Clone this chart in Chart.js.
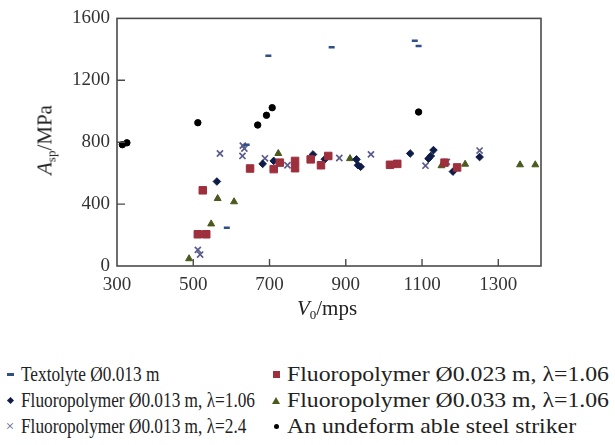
<!DOCTYPE html>
<html>
<head>
<meta charset="utf-8">
<script src="https://cdn.jsdelivr.net/npm/chart.js@4/dist/chart.umd.min.js"></script>
<style>
  body { margin: 0; background: #fff; }
  #wrap { position: relative; width: 615px; height: 445px; font-family: "Liberation Serif", "Times New Roman", Times, serif; color: #222; }
  #plot { position: absolute; left: 0; top: 0; width: 615px; height: 330px; }
  .ytitle { position: absolute; left: 46px; top: 140px; transform: translate(-50%, -50%) rotate(-90deg); font-size: 21px; white-space: nowrap; }
  .xtitle { position: absolute; left: 327px; top: 309px; transform: translate(-50%, -50%); font-size: 21px; white-space: nowrap; }
  sub { font-size: 13px; vertical-align: -4px; }
  #legend { position: absolute; left: 0; top: 361px; width: 615px; height: 80px; font-size: 22px; }
  .item { position: absolute; display: flex; align-items: center; white-space: nowrap; height: 26px; }
  .mk { width: 12px; height: 12px; display: flex; align-items: center; justify-content: center; }
  .txt { display: inline-block; transform-origin: left center; margin-left: 5px; }
</style>
</head>
<body>
<div id="wrap">
  <div id="plot"><canvas id="chart"></canvas></div>
  <div class="ytitle"><i>A</i><sub>sp</sub>/MPa</div>
  <div class="xtitle"><i>V</i><sub>0</sub>/mps</div>
  <div id="legend"></div>
</div>
<script>
// axis ticks
const xTicks = [300, 500, 700, 900, 1100, 1300];
const yTicks = [0, 400, 800, 1200, 1600];

// series
const textolyteX = [588, 640, 697, 863, 1081, 1091];
const textolyteY = [247, 784, 1358, 1413, 1455, 1421];

const fluoro023X = [512, 534, 525, 649, 711, 727, 767, 767, 808, 835, 854, 1016, 1035, 1159, 1192];
const fluoro023Y = [205, 205, 489, 630, 626, 668, 679, 632, 689, 651, 711, 654, 660, 668, 637];

const fluoro013X = [562, 682, 711, 814, 845, 928, 932, 939, 1069, 1117, 1123, 1130, 1181, 1251];
const fluoro013Y = [546, 660, 679, 721, 690, 689, 651, 641, 727, 694, 711, 749, 610, 704];

const fluoro033X = [489, 547, 564, 607, 723, 911, 1151, 1213, 1357, 1397];
const fluoro033Y = [47, 272, 436, 415, 727, 694, 648, 658, 654, 654];

const fluoroL24X = [512, 518, 570, 630, 634, 629, 688, 747, 883, 966, 1109, 1165, 1251];
const fluoroL24Y = [104, 74, 727, 778, 759, 711, 696, 651, 698, 721, 648, 673, 746];

const steelX = [314, 326, 512, 669, 692, 707, 1091];
const steelY = [784, 796, 926, 911, 974, 1023, 995];

const toPoints = (xs, ys) => xs.map((x, i) => ({ x: x, y: ys[i] }));

const series = [
    { label: 'Textolyte Ø0.013 m', data: toPoints(textolyteX, textolyteY), style: 'line', color: '#2f4f86', r: 3, bw: 2.5 },
    { label: 'Fluoropolymer Ø0.023 m, λ=1.06', data: toPoints(fluoro023X, fluoro023Y), style: 'rect', color: '#9e2f3c', r: 5.3, bw: 1 },
    { label: 'Fluoropolymer Ø0.013 m, λ=1.06', data: toPoints(fluoro013X, fluoro013Y), style: 'rectRot', color: '#0f1c48', r: 3.8, bw: 1 },
    { label: 'Fluoropolymer Ø0.033 m, λ=1.06', data: toPoints(fluoro033X, fluoro033Y), style: 'triangle', color: '#4a5a1e', r: 4, bw: 1 },
    { label: 'Fluoropolymer Ø0.013 m, λ=2.4', data: toPoints(fluoroL24X, fluoroL24Y), style: 'crossRot', color: '#5c5c8c', r: 4.3, bw: 1.7 },
    { label: 'An undeform able steel striker', data: toPoints(steelX, steelY), style: 'circle', color: '#000000', r: 3.2, bw: 1 }
];

// frame and inward tick marks
const framePlugin = {
    id: 'frame',
    afterDraw(chart) {
        const ctx = chart.ctx;
        const a = chart.chartArea;
        const xs = chart.scales.x, ys = chart.scales.y;
        ctx.save();
        ctx.strokeStyle = '#4a4a4a';
        ctx.lineWidth = 1.6;
        ctx.strokeRect(a.left, a.top, a.right - a.left, a.bottom - a.top);
        ctx.lineWidth = 1.4;
        ctx.beginPath();
        xTicks.slice(1).forEach(v => {
            const px = xs.getPixelForValue(v);
            ctx.moveTo(px, a.bottom);
            ctx.lineTo(px, a.bottom - 7);
        });
        yTicks.slice(1, -1).forEach(v => {
            const py = ys.getPixelForValue(v);
            ctx.moveTo(a.left, py);
            ctx.lineTo(a.left + 8, py);
        });
        ctx.stroke();
        ctx.restore();
    }
};

const tickFont = { family: '"Liberation Serif", "Times New Roman", serif', size: 19 };

new Chart(document.getElementById('chart'), {
    type: 'scatter',
    data: {
        datasets: series.map(s => ({
            label: s.label,
            data: s.data,
            pointStyle: s.style,
            pointRadius: s.r,
            pointBorderWidth: s.bw,
            backgroundColor: s.color,
            borderColor: s.color
        }))
    },
    options: {
        responsive: true,
        maintainAspectRatio: false,
        animation: false,
        layout: { padding: { left: 0, right: 74, top: 12, bottom: 0 } },
        plugins: { legend: { display: false }, tooltip: { enabled: false } },
        scales: {
            x: {
                type: 'linear',
                min: 300,
                max: 1412,
                grid: { display: false, drawTicks: false },
                border: { display: false },
                afterBuildTicks: scale => { scale.ticks = xTicks.map(v => ({ value: v })); },
                afterFit: scale => { scale.height = 64; },
                ticks: { font: tickFont, color: '#333', padding: 8, maxRotation: 0, callback: v => String(v) }
            },
            y: {
                min: 0,
                max: 1600,
                grid: { display: false, drawTicks: false },
                border: { display: false },
                afterBuildTicks: scale => { scale.ticks = yTicks.map(v => ({ value: v })); },
                afterFit: scale => { scale.width = 117; },
                ticks: { font: tickFont, color: '#333', padding: 7, callback: v => String(v) }
            }
        }
    },
    plugins: [framePlugin]
});

// legend as html, two columns (right column is wider in the original)
const markerHtml = s => {
    switch (s.style) {
        case 'line': return '<span style="width:7px;height:3px;background:' + s.color + '"></span>';
        case 'rect': return '<span style="width:7px;height:7px;background:' + s.color + '"></span>';
        case 'rectRot': return '<span style="width:5px;height:5px;background:' + s.color + ';transform:rotate(45deg)"></span>';
        case 'triangle': return '<span style="width:0;height:0;border-left:4px solid transparent;border-right:4px solid transparent;border-bottom:7px solid ' + s.color + '"></span>';
        case 'crossRot': return '<span style="color:' + s.color + ';font-size:15px;line-height:12px">×</span>';
        default: return '<span style="width:5px;height:5px;border-radius:50%;background:' + s.color + '"></span>';
    }
};
const colLeft = [4, 270];
const colTextWidth = [234, 322];
const legend = document.getElementById('legend');
const texts = [[], []];
series.forEach((s, i) => {
    const col = i % 2, row = Math.floor(i / 2);
    const div = document.createElement('div');
    div.className = 'item';
    div.style.left = colLeft[col] + 'px';
    div.style.top = (row * 26) + 'px';
    div.innerHTML = '<span class="mk">' + markerHtml(s) + '</span><span class="txt">' + s.label + '</span>';
    legend.appendChild(div);
    texts[col].push(div.querySelector('.txt'));
});
texts.forEach((list, col) => {
    const w = Math.max(...list.map(t => t.getBoundingClientRect().width));
    const k = colTextWidth[col] / w;
    list.forEach(t => { t.style.transform = 'scaleX(' + k + ')'; });
});
</script>
</body>
</html>
